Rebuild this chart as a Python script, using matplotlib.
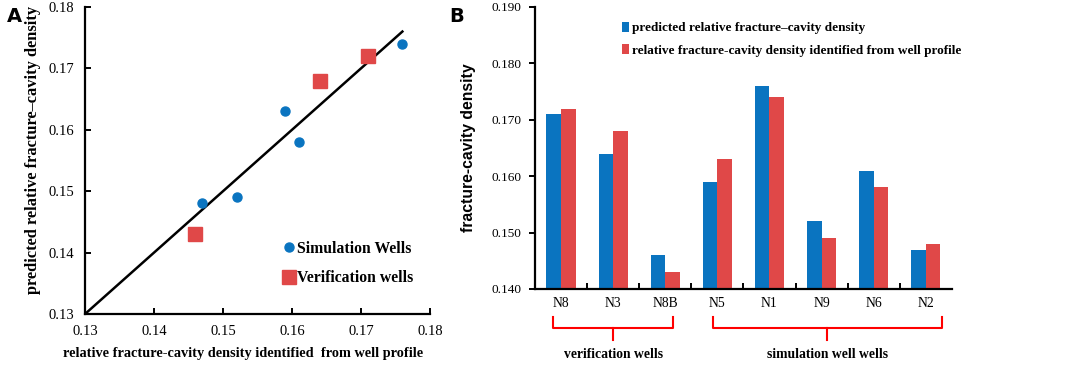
import matplotlib
matplotlib.use("Agg")
import matplotlib.pyplot as plt
import numpy as np

# well data (shared by both panels)
wells = ["N8", "N3", "N8B", "N5", "N1", "N9", "N6", "N2"]
predicted = [0.171, 0.164, 0.146, 0.159, 0.176, 0.152, 0.161, 0.147]
identified = [0.172, 0.168, 0.143, 0.163, 0.174, 0.149, 0.158, 0.148]
verification = ["N8", "N3", "N8B"]
simulation = ["N5", "N1", "N9", "N6", "N2"]

BLUE = "#0a74c0"
RED = "#e04848"
SERIF = "Liberation Serif"

plt.rcParams["font.family"] = SERIF
plt.rcParams["axes.linewidth"] = 1.6

fig = plt.figure(figsize=(10.72, 3.68), dpi=100)

# ---------------- panel A: scatter ----------------
axA = fig.add_axes([0.0793, 0.1467, 0.3218, 0.8343])
pred = dict(zip(wells, predicted))
ident = dict(zip(wells, identified))

xs = [pred[w] for w in simulation]
ys = [ident[w] for w in simulation]
axA.plot(xs, ys, "o", color=BLUE, markersize=6.5, label="Simulation Wells", zorder=3)
xv = [pred[w] for w in verification]
yv = [ident[w] for w in verification]
axA.plot(xv, yv, "s", color=RED, markersize=9.5, label="Verification wells", zorder=3)

lo = 0.13
hi = max(predicted)
axA.plot([lo, hi], [lo, hi], "k-", linewidth=1.8, zorder=2)

axA.set_xlim(0.13, 0.18)
axA.set_ylim(0.13, 0.18)
axA.set_xticks(np.arange(0.13, 0.1801, 0.01))
axA.set_yticks(np.arange(0.13, 0.1801, 0.01))
axA.xaxis.set_major_formatter(matplotlib.ticker.FormatStrFormatter("%.2f"))
axA.yaxis.set_major_formatter(matplotlib.ticker.FormatStrFormatter("%.2f"))
axA.tick_params(direction="in", length=4, width=1.4, labelsize=10.5, pad=8)
for s in ("top", "right"):
    axA.spines[s].set_visible(False)
fig.text(243 / 1072, 1 - 354 / 368,
         "relative fracture-cavity density identified  from well profile",
         fontweight="bold", fontsize=10.3, ha="center", va="center")
fig.text(33 / 1072, 1 - 150 / 368,
         "predicted relative fracture\u2013cavity density",
         fontweight="bold", fontsize=11.8, ha="center", va="center", rotation=90)
axA.legend(loc="lower right", bbox_to_anchor=(0.98, 0.06), frameon=False,
           prop={"weight": "bold", "size": 11.3}, handletextpad=0.05,
           handlelength=1.0, labelspacing=0.85, borderaxespad=0.2)
fig.text(0.006, 0.94, "A", fontsize=14, fontweight="bold", family="DejaVu Sans")

# ---------------- panel B: bars ----------------
axB = fig.add_axes([0.499, 0.2147, 0.389, 0.7663])
idx = np.arange(len(wells))
bw = 0.28
axB.bar(idx - bw / 2, predicted, bw, color=BLUE,
        label="predicted relative fracture\u2013cavity density")
axB.bar(idx + bw / 2, identified, bw, color=RED,
        label="relative fracture-cavity density identified from well profile")
axB.set_xlim(-0.5, len(wells) - 0.5)
axB.set_ylim(0.140, 0.190)
axB.set_yticks(np.arange(0.14, 0.1901, 0.01))
axB.yaxis.set_major_formatter(matplotlib.ticker.FormatStrFormatter("%.3f"))
axB.set_xticks(idx)
axB.set_xticklabels(wells)
axB.set_xticks(np.arange(0.5, len(wells) - 0.5, 1), minor=True)
axB.tick_params(axis="x", which="major", length=0, labelsize=9.8, pad=6)
axB.tick_params(axis="x", which="minor", direction="in", length=4, width=1.4)
axB.tick_params(axis="y", direction="out", length=4, width=1.4, labelsize=9.5, pad=6)
for s in ("top", "right"):
    axB.spines[s].set_visible(False)
axB.set_ylabel("fracture-cavity density", fontweight="bold", fontsize=11.3,
               family="Liberation Sans", labelpad=11)
axB.legend(loc="upper left", bbox_to_anchor=(0.18, 0.99), frameon=False,
           prop={"weight": "bold", "size": 9.5}, handlelength=0.55,
           handleheight=0.8, handletextpad=0.25, labelspacing=0.75)
fig.text(0.419, 0.94, "B", fontsize=14, fontweight="bold", family="DejaVu Sans")

# group brackets under the category labels
tr = axB.get_xaxis_transform()
groups = [(-0.15, 2.15, "verification wells"), (2.92, 7.3, "simulation well wells")]
for x0, x1, text in groups:
    xm = (x0 + x1) / 2
    axB.plot([x0, x0, x1, x1], [-0.099, -0.138, -0.138, -0.099], color="red",
             linewidth=1.5, transform=tr, clip_on=False)
    axB.plot([xm, xm], [-0.138, -0.181], color="red", linewidth=1.5,
             transform=tr, clip_on=False)
    axB.text(xm, -0.234, text, transform=tr, ha="center", va="center",
             fontweight="bold", fontsize=9.8)

fig.savefig("out.png", dpi=100)
